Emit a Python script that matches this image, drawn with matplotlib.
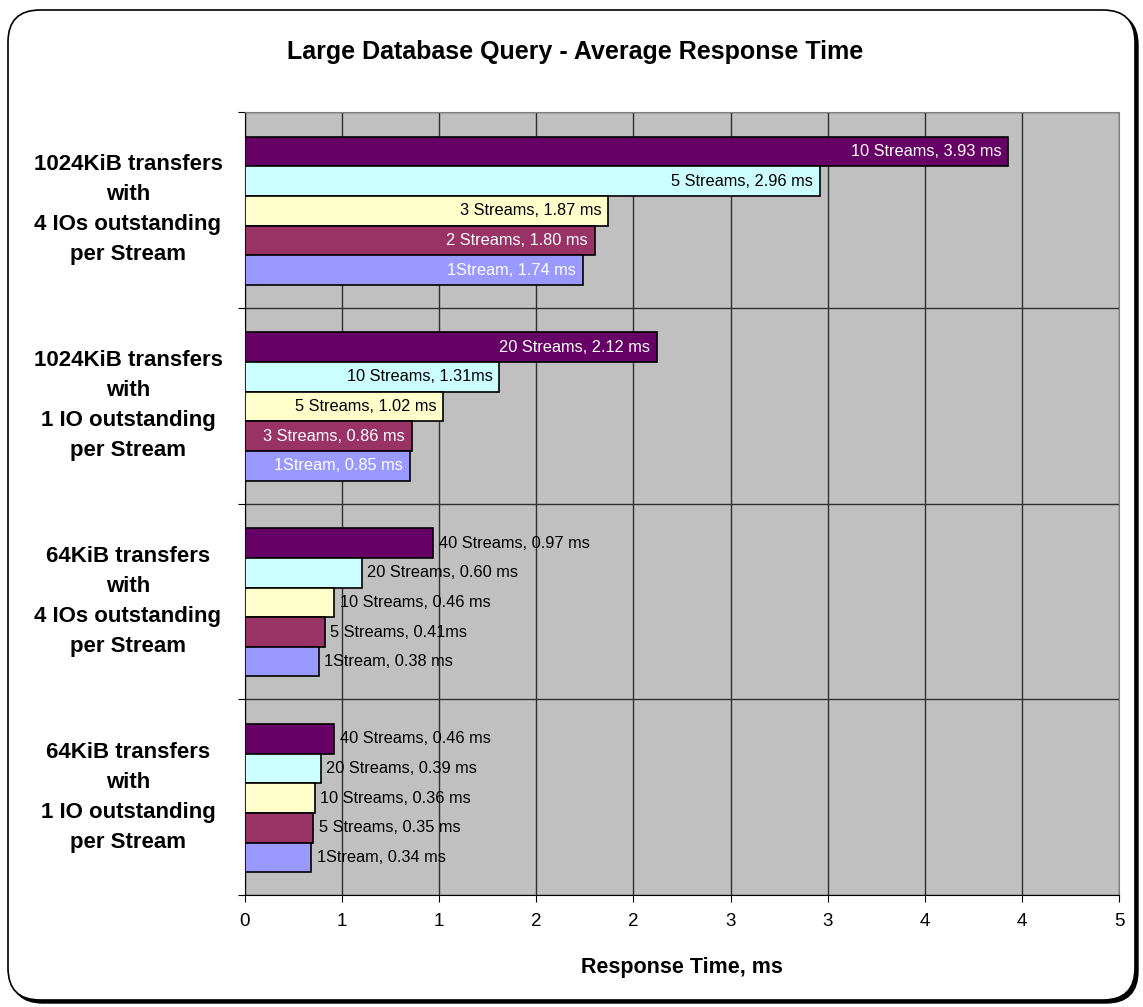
import numpy as np
import matplotlib.pyplot as plt
import matplotlib.patches as mpatches
import matplotlib.transforms as mtransforms

plt.rcParams['font.family'] = ['Liberation Sans', 'DejaVu Sans']

# groups, top to bottom
groups = ["1024KiB transfers\nwith\n4 IOs outstanding\nper Stream",
          "1024KiB transfers\nwith\n1 IO outstanding\nper Stream",
          "64KiB transfers\nwith\n4 IOs outstanding\nper Stream",
          "64KiB transfers\nwith\n1 IO outstanding\nper Stream"]

# values per group, bars top to bottom
vals_g1 = [3.93, 2.96, 1.87, 1.80, 1.74]
vals_g2 = [2.12, 1.31, 1.02, 0.86, 0.85]
vals_g3 = [0.97, 0.60, 0.46, 0.41, 0.38]
vals_g4 = [0.46, 0.39, 0.36, 0.35, 0.34]

labels_g1 = ["10 Streams, 3.93 ms", "5 Streams, 2.96 ms", "3 Streams, 1.87 ms",
             "2 Streams, 1.80 ms", "1Stream, 1.74 ms"]
labels_g2 = ["20 Streams, 2.12 ms", "10 Streams, 1.31ms", "5 Streams, 1.02 ms",
             "3 Streams, 0.86 ms", "1Stream, 0.85 ms"]
labels_g3 = ["40 Streams, 0.97 ms", "20 Streams, 0.60 ms", "10 Streams, 0.46 ms",
             "5 Streams, 0.41ms", "1Stream, 0.38 ms"]
labels_g4 = ["40 Streams, 0.46 ms", "20 Streams, 0.39 ms", "10 Streams, 0.36 ms",
             "5 Streams, 0.35 ms", "1Stream, 0.34 ms"]

xticks = [0, 0.5, 1, 1.5, 2, 2.5, 3, 3.5, 4, 4.5]
xtick_labels = ["0", "1", "1", "2", "2", "3", "3", "4", "4", "5"]

colors = ["#660066", "#CCFFFF", "#FFFFCC", "#993366", "#9999FF"]
text_colors = ["white", "black", "black", "white", "white"]

all_vals = [vals_g1, vals_g2, vals_g3, vals_g4]
all_labels = [labels_g1, labels_g2, labels_g3, labels_g4]
inside = [True, True, False, False]

W, H = 1143, 1007
fig = plt.figure(figsize=(W / 100, H / 100), dpi=100)

# rounded chart border with a small shadow
shadow = mpatches.FancyBboxPatch((11, 4), 1127, 990, boxstyle="round,pad=0,rounding_size=32",
                                 transform=None, facecolor="black", edgecolor="black", zorder=-3)
border = mpatches.FancyBboxPatch((8, 7), 1127, 990, boxstyle="round,pad=0,rounding_size=32",
                                 transform=None, facecolor="white", edgecolor="black",
                                 linewidth=1.2, zorder=-2)
fig.patches.extend([shadow, border])

ax = fig.add_axes([245 / W, 1 - 895 / H, 874 / W, 783 / H])
ax.set_facecolor("#C0C0C0")

bh = 0.1515
for i in range(4):
    for j in range(5):
        y = i + (j - 2) * bh + 0.005
        v = all_vals[i][j]
        ax.barh(y, v, height=bh, color=colors[j], edgecolor="black", linewidth=1.2, zorder=3)
        if inside[i]:
            ax.annotate(all_labels[i][j], (v, y), xytext=(-5, 0), textcoords="offset points",
                        ha="right", va="center", fontsize=11.8, color=text_colors[j], zorder=4)
        else:
            ax.annotate(all_labels[i][j], (v, y), xytext=(4, 0), textcoords="offset points",
                        ha="left", va="center", fontsize=11.8, color="black", zorder=4)

ax.set_xlim(0, 4.5)
ax.set_ylim(3.5, -0.5)
ax.set_xticks(xticks)
ax.set_xticklabels(xtick_labels, fontsize=13.5)
ax.set_yticks([-0.5, 0.5, 1.5, 2.5, 3.5])
ax.set_yticklabels([])
ax.tick_params(axis="both", direction="out", length=5, color="black")
ax.tick_params(axis="x", pad=8)
ax.grid(True, color="#303030", linewidth=1.0, zorder=0)
ax.set_axisbelow(True)
for s in ["top", "right"]:
    ax.spines[s].set_color("#808080")
for s in ["left", "bottom"]:
    ax.spines[s].set_color("black")

trans = mtransforms.blended_transform_factory(fig.transFigure, ax.transData)
for i, g in enumerate(groups):
    ax.text(128 / W, i, g, transform=trans, ha="center", va="center",
            multialignment="center", fontsize=16, fontweight="bold", linespacing=1.56)

fig.text(575 / W, 1 - 52 / H, "Large Database Query - Average Response Time",
         ha="center", va="center", fontsize=18, fontweight="bold")
fig.text(682 / W, 1 - 967 / H, "Response Time, ms", ha="center", va="center",
         fontsize=15.5, fontweight="bold")

fig.savefig("out.png", dpi=100)
